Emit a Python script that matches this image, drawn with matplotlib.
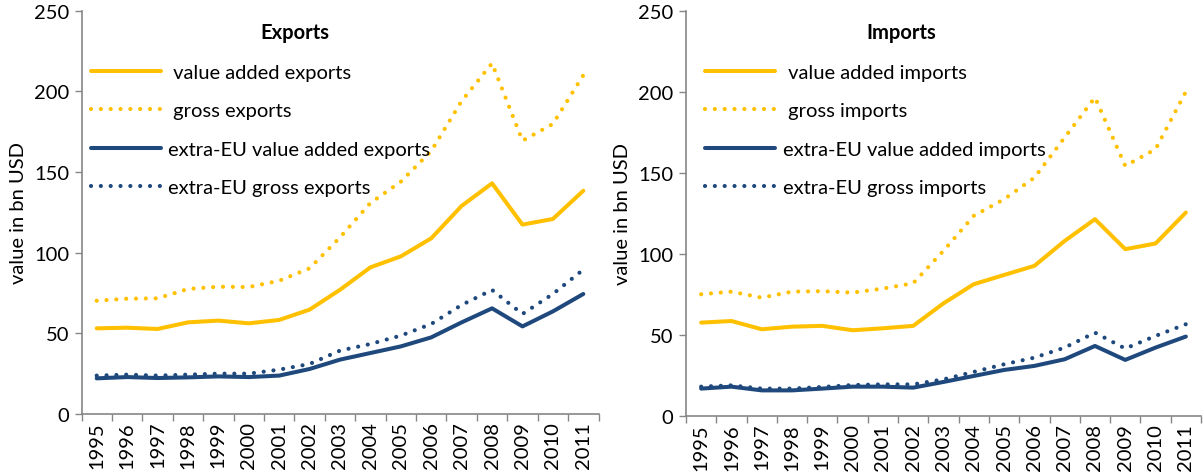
import matplotlib
matplotlib.use("Agg")
import matplotlib.pyplot as plt
import numpy as np

years = [str(y) for y in range(1995, 2012)]

va_exports = [53.1, 53.5, 52.7, 56.8, 57.9, 56.2, 58.3, 64.7, 77.0, 90.9, 97.7, 108.9, 129.0, 143.0, 117.4, 120.9, 138.4]
gross_exports = [70.2, 71.5, 71.7, 77.5, 78.9, 78.7, 82.6, 90.3, 109.5, 130.8, 144.0, 163.0, 194.0, 217.4, 169.4, 179.8, 210.0]
xeu_va_exports = [22.1, 22.9, 22.3, 22.7, 23.3, 22.9, 23.8, 27.9, 33.7, 37.8, 41.9, 47.5, 56.8, 65.5, 54.3, 63.6, 74.4]
xeu_gross_exports = [23.8, 24.4, 23.8, 24.4, 25.0, 25.0, 27.5, 31.0, 39.3, 43.4, 48.6, 55.8, 67.6, 76.9, 62.0, 74.4, 89.5]

va_imports = [57.6, 58.6, 53.5, 55.1, 55.6, 52.9, 54.1, 55.6, 69.5, 81.3, 87.0, 92.6, 108.0, 121.4, 102.9, 106.4, 125.5]
gross_imports = [75.1, 76.7, 73.0, 76.7, 77.0, 76.1, 78.6, 81.9, 101.9, 123.5, 133.7, 147.0, 171.8, 196.5, 154.3, 164.6, 200.0]
xeu_va_imports = [16.9, 18.1, 15.8, 15.8, 16.9, 18.1, 18.1, 17.5, 21.0, 24.7, 28.4, 30.9, 35.0, 43.2, 34.6, 42.2, 49.0]
xeu_gross_imports = [18.1, 18.9, 16.9, 16.9, 17.9, 19.1, 19.5, 19.5, 22.6, 27.2, 31.9, 36.0, 42.2, 51.4, 41.6, 49.4, 56.6]

export_labels = [" value added exports", " gross exports", "extra-EU value added exports", "extra-EU gross exports"]
import_labels = [" value added imports", " gross imports", "extra-EU value added imports", "extra-EU gross imports"]

YELLOW = "#FFC000"
BLUE = "#1F497D"
GRAY = "#868686"
FS = 14.5

plt.rcParams['font.family'] = ['Lato', 'DejaVu Sans']
plt.rcParams['font.size'] = FS

W, H = 1203, 477
fig = plt.figure(figsize=(W / 100, H / 100), dpi=100)
ax1 = fig.add_axes([81.5 / W, (H - 415) / H, 517 / W, (415 - 11.7) / H])
ax2 = fig.add_axes([686 / W, (H - 417) / H, 515 / W, (417 - 11.7) / H])


def draw(ax, series, labels, title, leg_x_px, title_x_px):
    x = np.arange(len(years))
    styles = [(YELLOW, '-'), (YELLOW, ':'), (BLUE, '-'), (BLUE, ':')]
    handles = []
    for vals, (c, ls), lab in zip(series, styles, labels):
        if ls == '-':
            ln, = ax.plot(x, vals, color=c, lw=2.9, solid_joinstyle='round',
                          solid_capstyle='round', label=lab)
        else:
            ln, = ax.plot(x, vals, color=c, lw=3.0, linestyle=(0, (0.01, 2.35)),
                          dash_capstyle='round', label=lab)
        handles.append(ln)
    ax.set_xlim(-0.5, len(years) - 0.5)
    ax.set_ylim(0, 250)
    ax.set_yticks([0, 50, 100, 150, 200, 250])
    ax.set_xticks(np.arange(-0.5, len(years), 1.0))
    ax.set_xticklabels([])
    ax.set_xticks(x, minor=True)
    ax.set_xticklabels(years, minor=True, rotation=90)
    ax.tick_params(axis='x', which='major', direction='out', length=5, color=GRAY, width=1)
    ax.tick_params(axis='x', which='minor', length=0, pad=5, labelsize=FS)
    ax.tick_params(axis='y', direction='out', length=5, color=GRAY, width=1, labelsize=FS, pad=4)
    for s in ['top', 'right']:
        ax.spines[s].set_visible(False)
    for s in ['left', 'bottom']:
        ax.spines[s].set_color(GRAY)
        ax.spines[s].set_linewidth(1.2)
    ax.set_ylabel("value in bn USD", fontsize=FS, labelpad=5)

    bbox = ax.get_position()
    ax_w_px = bbox.width * W
    ax_h_px = bbox.height * H
    ax_top_px = H - (bbox.y0 + bbox.height) * H
    ax.legend(handles=handles, loc='upper left',
              bbox_to_anchor=(leg_x_px / ax_w_px, 1 - (65 - ax_top_px) / ax_h_px),
              frameon=False, handlelength=3.5, handletextpad=0.35,
              labelspacing=1.05, fontsize=FS, borderaxespad=0, borderpad=0)
    ax.text((title_x_px) / ax_w_px, 1 - (33 - ax_top_px) / ax_h_px, title,
            transform=ax.transAxes, ha='center', va='center',
            fontsize=FS, fontweight='bold')


draw(ax1, [va_exports, gross_exports, xeu_va_exports, xeu_gross_exports],
     export_labels, "Exports", 9, 295 - 81.5)
draw(ax2, [va_imports, gross_imports, xeu_va_imports, xeu_gross_imports],
     import_labels, "Imports", 19, 901 - 686)

fig.savefig("out.png", dpi=100)
